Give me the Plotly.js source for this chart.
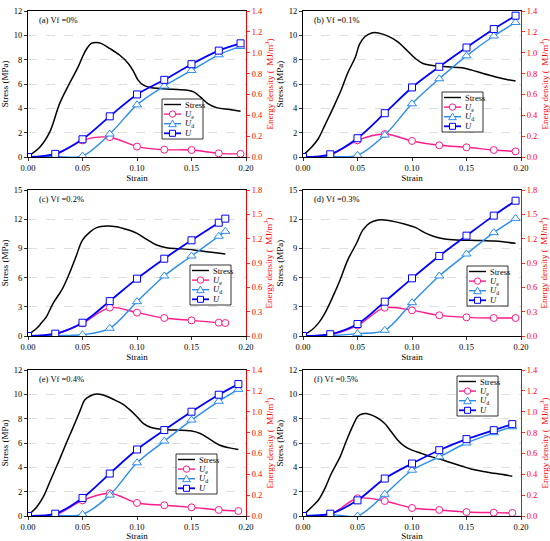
<!DOCTYPE html>
<html>
<head>
<meta charset="utf-8">
<script src="https://cdn.plot.ly/plotly-3.0.1.min.js"></script>
<style>html,body{margin:0;padding:0;background:#fff;}#chart{width:550px;height:541px;}</style>
</head>
<body>
<div id="chart"></div>
<script>
// ---------- DATA ----------
const panelLabels = ['(a) Vf =0%', '(b) Vf =0.1%', '(c) Vf =0.2%', '(d) Vf =0.3%', '(e) Vf =0.4%', '(f) Vf =0.5%'];
const seriesNames = ['Stress', '<i>U</i><sub>e</sub>', '<i>U</i><sub>d</sub>', '<i>U</i>'];

// (a) Vf = 0%
const strainS_a = [0,0.011,0.02,0.029,0.038,0.046,0.05,0.054,0.058,0.063,0.067,0.075,0.084,0.092,0.097,0.101,0.106,0.112,0.121,0.133,0.146,0.152,0.158,0.165,0.173,0.185,0.195];
const stress_a  = [0.05,0.82,2.06,4.39,6.04,7.41,8.24,8.92,9.34,9.42,9.34,8.92,8.38,7.69,7.0,6.32,5.9,5.71,5.63,5.57,5.49,5.35,4.94,4.39,4.06,3.9,3.76];
const strainE_a = [0,0.025,0.05,0.075,0.1,0.125,0.15,0.175,0.195];
const Ue_a = [0,0.02,0.16,0.19,0.10,0.07,0.067,0.035,0.03];
const Ud_a = [0,0.005,0.01,0.22,0.50,0.68,0.83,0.98,1.06];
const U_a  = [0,0.03,0.17,0.39,0.60,0.74,0.89,1.02,1.09];

// (b) Vf = 0.1%
const strainS_b = [0,0.008,0.014,0.02,0.028,0.035,0.041,0.048,0.052,0.057,0.063,0.069,0.078,0.087,0.095,0.103,0.11,0.121,0.133,0.146,0.155,0.164,0.176,0.188,0.195];
const stress_b  = [0.14,0.82,1.5,2.6,4.1,5.5,6.9,8.2,9.3,9.9,10.2,10.2,9.94,9.47,8.79,8.1,7.69,7.5,7.41,7.33,7.14,6.9,6.6,6.35,6.25];
const strainE_b = [0,0.025,0.05,0.075,0.1,0.125,0.15,0.175,0.195];
const Ue_b = [0,0.02,0.16,0.22,0.154,0.112,0.093,0.067,0.054];
const Ud_b = [0,0.005,0.016,0.21,0.51,0.75,0.97,1.16,1.29];
const U_b  = [0,0.026,0.18,0.42,0.667,0.865,1.05,1.227,1.355];

// (c) Vf = 0.2%
const strainS_c = [0,0.008,0.012,0.017,0.023,0.031,0.038,0.044,0.05,0.057,0.063,0.072,0.081,0.09,0.1,0.109,0.118,0.127,0.139,0.152,0.164,0.176,0.181];
const stress_c  = [0.1,0.79,1.3,2.0,3.36,4.73,6.44,8.15,9.86,10.7,11.13,11.3,11.23,10.96,10.55,9.93,9.35,9.07,8.97,8.84,8.66,8.49,8.42];
const strainE_c = [0,0.025,0.05,0.075,0.1,0.125,0.15,0.175,0.181];
const Ue_c = [0,0.02,0.156,0.35,0.288,0.222,0.193,0.164,0.16];
const Ud_c = [0,0.005,0.016,0.095,0.423,0.74,0.986,1.23,1.29];
const U_c  = [0,0.029,0.164,0.43,0.707,0.953,1.18,1.397,1.447];

// (d) Vf = 0.3%
const strainS_d = [0,0.008,0.014,0.02,0.028,0.034,0.041,0.049,0.055,0.061,0.069,0.075,0.084,0.093,0.103,0.112,0.121,0.13,0.141,0.152,0.164,0.176,0.185,0.195];
const stress_d  = [0.07,0.62,1.3,2.33,4.2,5.75,7.8,9.5,10.9,11.6,11.92,11.92,11.75,11.5,11.16,10.6,10.2,9.97,9.86,9.83,9.8,9.76,9.66,9.52];
const strainE_d = [0,0.025,0.05,0.075,0.1,0.125,0.15,0.175,0.195];
const Ue_d = [0,0.015,0.13,0.349,0.316,0.255,0.23,0.222,0.222];
const Ud_d = [0,0.005,0.029,0.07,0.411,0.74,1.011,1.274,1.45];
const U_d  = [0,0.022,0.148,0.423,0.711,0.986,1.237,1.484,1.668];

// (e) Vf = 0.4%
const strainS_e = [0,0.008,0.014,0.02,0.028,0.035,0.041,0.048,0.052,0.057,0.063,0.069,0.078,0.087,0.093,0.1,0.106,0.113,0.124,0.136,0.149,0.158,0.167,0.176,0.185,0.193];
const stress_e  = [0.05,0.74,1.57,2.8,4.45,5.96,7.2,8.7,9.53,9.86,10.02,9.94,9.6,9.2,8.76,8.16,7.6,7.28,7.11,7.06,7.0,6.78,6.29,5.82,5.6,5.46];
const strainE_e = [0,0.025,0.05,0.075,0.1,0.125,0.15,0.175,0.193];
const Ue_e = [0,0.01,0.15,0.218,0.125,0.103,0.083,0.058,0.048];
const Ud_e = [0,0.005,0.016,0.2,0.51,0.718,0.92,1.10,1.214];
const U_e  = [0,0.022,0.173,0.407,0.638,0.824,1.0,1.163,1.265];

// (f) Vf = 0.5%
const strainS_f = [0,0.008,0.014,0.02,0.026,0.034,0.04,0.046,0.05,0.054,0.058,0.063,0.069,0.075,0.081,0.087,0.093,0.1,0.109,0.118,0.127,0.136,0.146,0.155,0.164,0.173,0.182,0.192];
const stress_f  = [0.05,0.74,1.29,2.25,3.49,4.86,6.23,7.47,8.16,8.38,8.43,8.29,8.02,7.6,6.92,6.23,5.74,5.41,5.13,4.86,4.64,4.37,4.09,3.85,3.68,3.54,3.43,3.27];
const strainE_f = [0,0.025,0.05,0.075,0.1,0.125,0.15,0.175,0.192];
const Ue_f = [0,0.016,0.17,0.144,0.077,0.058,0.038,0.032,0.029];
const Ud_f = [0,0.016,0.0,0.208,0.439,0.567,0.70,0.798,0.855];
const U_f  = [0,0.022,0.15,0.359,0.503,0.631,0.737,0.823,0.881];

// axis ranges / tick steps
const stressRange = [[0,12],[0,12],[0,15],[0,15],[0,12],[0,12]];
const stressStep  = [2,2,3,3,2,2];
const energyRange = [[0,1.4],[0,1.4],[0,1.8],[0,1.8],[0,1.4],[0,1.4]];
const energyStep  = [0.2,0.2,0.3,0.3,0.2,0.2];

// ---------- BUILD ----------
const panels = [
  {sx:strainS_a, s:stress_a, ex:strainE_a, ue:Ue_a, ud:Ud_a, u:U_a},
  {sx:strainS_b, s:stress_b, ex:strainE_b, ue:Ue_b, ud:Ud_b, u:U_b},
  {sx:strainS_c, s:stress_c, ex:strainE_c, ue:Ue_c, ud:Ud_c, u:U_c},
  {sx:strainS_d, s:stress_d, ex:strainE_d, ue:Ue_d, ud:Ud_d, u:U_d},
  {sx:strainS_e, s:stress_e, ex:strainE_e, ue:Ue_e, ud:Ud_e, u:U_e},
  {sx:strainS_f, s:stress_f, ex:strainE_f, ue:Ue_f, ud:Ud_f, u:U_f}
];

const W = 550, H = 541;
const colPx = [[28,246],[303,521]];
const rowPx = [[11,157],[190,336],[370,516]];
const PW = 218, PH = 146;
// legend box top-left inside each panel (px)
const legPx = [[134,88],[139,81],[162,75],[164,76],[148,84],[154,6]];

const FONT = 'Liberation Serif, Times New Roman, serif';
const RED = '#ff0000';
const colors = ['#000000', '#ff1a8c', '#2b8cf0', '#0000ff'];
const symbols = [null, 'circle', 'triangle-up', 'square'];

const traces = [];
const layout = {
  width: W, height: H,
  margin: {l:0, r:0, t:0, b:0},
  paper_bgcolor: '#ffffff', plot_bgcolor: '#ffffff',
  showlegend: false,
  font: {family: FONT, size: 9, color: '#000'},
  shapes: [], annotations: []
};

panels.forEach((p, i) => {
  const k = i + 1;
  const sfx = k > 1 ? String(k) : '';
  const xa = 'x' + sfx, ya = 'y' + sfx, yr = 'y' + (k + 6);
  const col = colPx[i % 2], row = rowPx[Math.floor(i / 2)];
  const xDom = [col[0] / W, col[1] / W];
  const yDom = [1 - row[1] / H, 1 - row[0] / H];

  layout['xaxis' + sfx] = {
    domain: xDom, anchor: ya, range: [0, 0.2], dtick: 0.05, tick0: 0, tickformat: '.2f',
    showline: true, linecolor: '#000', linewidth: 1, mirror: true,
    ticks: 'outside', ticklen: 3, tickwidth: 0.8, tickcolor: '#000',
    showgrid: false, zeroline: false,
    tickfont: {family: FONT, size: 8.5, color: '#000'},
    title: {text: 'Strain', font: {family: FONT, size: 9, color: '#000'}, standoff: 0}
  };
  layout['yaxis' + sfx] = {
    domain: yDom, anchor: xa, range: stressRange[i], dtick: stressStep[i], tick0: 0,
    showline: true, linecolor: '#000', linewidth: 1,
    ticks: 'outside', ticklen: 3, tickwidth: 0.8, tickcolor: '#000',
    showgrid: true, gridcolor: '#d6d6d6', gridwidth: 0.8, griddash: 'dash', zeroline: false,
    tickfont: {family: FONT, size: 8.5, color: '#000'},
    title: {text: 'Stress (MPa)', font: {family: FONT, size: 9, color: '#000'}, standoff: 3}
  };
  layout['yaxis' + (k + 6)] = {
    overlaying: ya, anchor: xa, side: 'right', range: energyRange[i], dtick: energyStep[i], tick0: 0,
    tickformat: '.1f',
    showline: true, linecolor: RED, linewidth: 1,
    ticks: 'outside', ticklen: 3, tickwidth: 0.8, tickcolor: RED,
    showgrid: false, zeroline: false,
    tickfont: {family: FONT, size: 8.5, color: RED},
    title: {text: 'Energy density (  MJ/m<sup>3</sup>)', font: {family: FONT, size: 9, color: RED}, standoff: 3}
  };

  traces.push({
    type: 'scatter', mode: 'lines', x: p.sx, y: p.s, xaxis: xa, yaxis: ya,
    line: {color: colors[0], width: 1.5, shape: 'spline', smoothing: 1}, name: 'Stress'
  });
  [[p.ue, 1], [p.ud, 2], [p.u, 3]].forEach(([vals, c]) => {
    traces.push({
      type: 'scatter', mode: 'lines+markers', x: p.ex, y: vals, xaxis: xa, yaxis: yr,
      line: {color: colors[c], width: c === 3 ? 1.8 : 1.4, shape: 'spline', smoothing: 0.9},
      marker: {symbol: symbols[c], size: c === 2 ? 8 : 7, color: '#ffffff', line: {color: colors[c], width: 1}},
      name: seriesNames[c]
    });
  });

  // panel label
  layout.annotations.push({
    xref: xa + ' domain', yref: ya + ' domain', x: 0.04, y: 0.935, xanchor: 'left', yanchor: 'middle',
    text: panelLabels[i], showarrow: false, font: {family: FONT, size: 8.5, color: '#000'}
  });

  // custom legend
  const L = legPx[i][0], T = legPx[i][1];
  const fx = v => v / PW, fy = v => 1 - v / PH;
  const xr = xa + ' domain', yrf = ya + ' domain';
  layout.shapes.push({
    type: 'rect', xref: xr, yref: yrf, x0: fx(L), x1: fx(L + 41), y0: fy(T + 40), y1: fy(T),
    line: {color: '#000', width: 0.8}, fillcolor: '#ffffff', layer: 'above'
  });
  for (let j = 0; j < 4; j++) {
    const yc = fy(T + 5.5 + j * 9.6);
    layout.shapes.push({
      type: 'line', xref: xr, yref: yrf, x0: fx(L + 2), x1: fx(L + 19), y0: yc, y1: yc,
      line: {color: colors[j], width: j === 3 ? 1.8 : 1.4}, layer: 'above'
    });
    const base = {xref: xr, yref: yrf, xsizemode: 'pixel', ysizemode: 'pixel', xanchor: fx(L + 10.5), yanchor: yc,
      line: {color: colors[j], width: 1}, fillcolor: '#ffffff', layer: 'above'};
    if (j === 1) layout.shapes.push(Object.assign({type: 'circle', x0: -3.2, x1: 3.2, y0: -3.2, y1: 3.2}, base));
    if (j === 2) layout.shapes.push(Object.assign({type: 'path', path: 'M-3.8,-3 L3.8,-3 L0,3.6 Z'}, base));
    if (j === 3) layout.shapes.push(Object.assign({type: 'rect', x0: -3, x1: 3, y0: -3, y1: 3}, base));
    layout.annotations.push({
      xref: xr, yref: yrf, x: fx(L + 21), y: yc, xanchor: 'left', yanchor: 'middle',
      text: seriesNames[j], showarrow: false, font: {family: FONT, size: 8.5, color: '#000'}
    });
  }
});

Plotly.newPlot('chart', traces, layout, {displayModeBar: false, staticPlot: true});
</script>
</body>
</html>
